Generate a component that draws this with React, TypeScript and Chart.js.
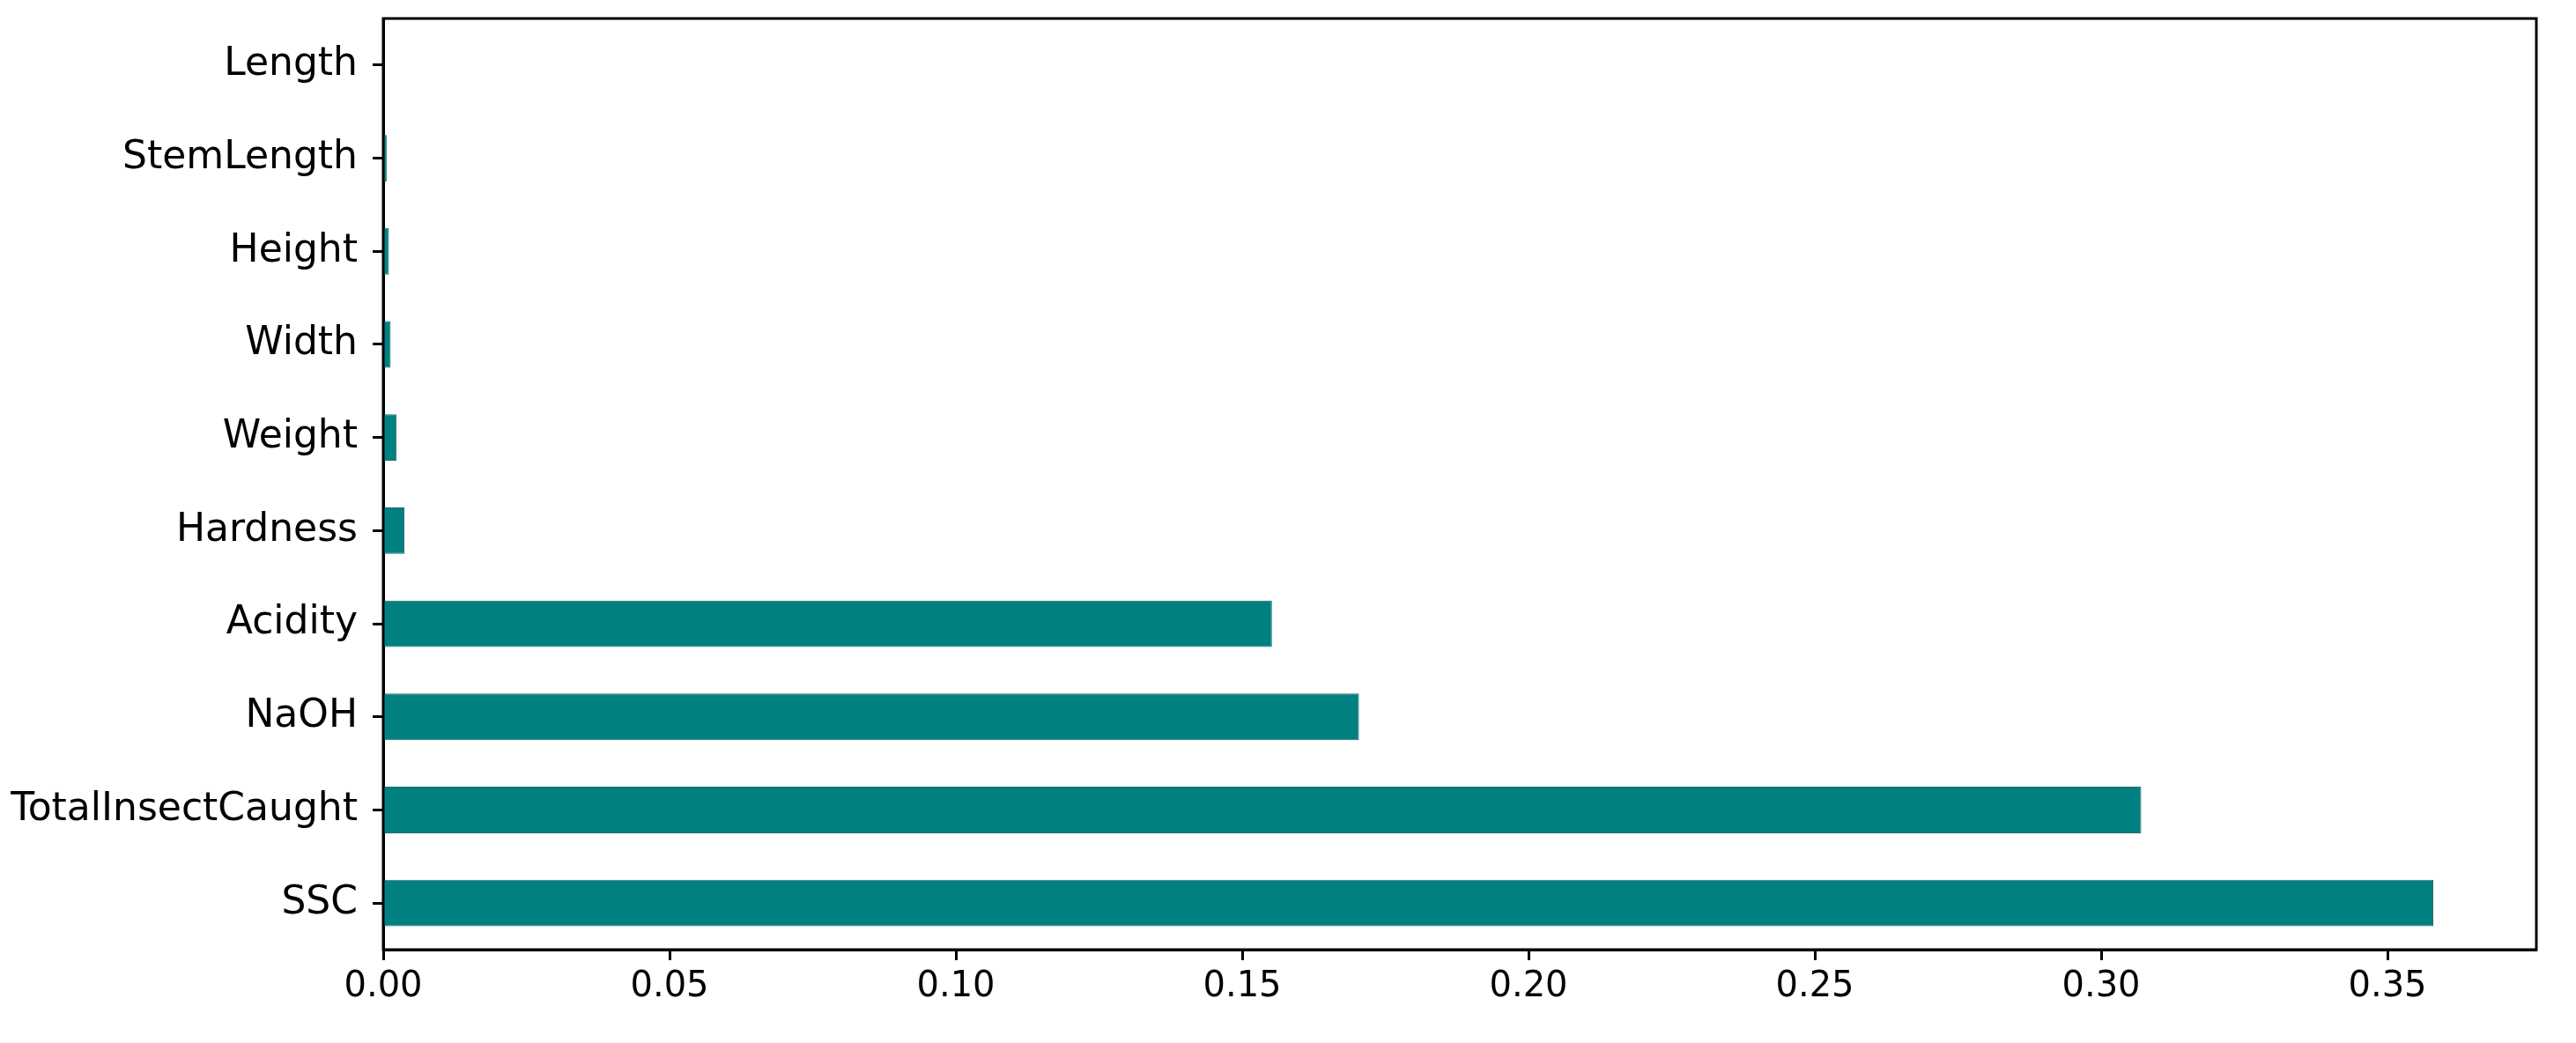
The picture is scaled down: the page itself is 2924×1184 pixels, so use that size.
import { Chart, registerables } from 'chart.js';
import { useEffect, useRef } from 'react';

Chart.register(...registerables);

// feature names, top to bottom as drawn
const features = [
  'Length',
  'StemLength',
  'Height',
  'Width',
  'Weight',
  'Hardness',
  'Acidity',
  'NaOH',
  'TotalInsectCaught',
  'SSC',
];
const importance = [
  0.0001, 0.0006, 0.001, 0.0013, 0.0023, 0.0037, 0.1552, 0.1704, 0.307, 0.358,
];
const xTicks = [0, 0.05, 0.1, 0.15, 0.2, 0.25, 0.3, 0.35];
const xMax = 0.376;

// matplotlib-style full frame round the plot
const frame = {
  id: 'frame',
  afterDraw(chart: Chart) {
    const { ctx, chartArea } = chart;
    ctx.save();
    ctx.strokeStyle = '#000';
    ctx.lineWidth = 3;
    ctx.strokeRect(
      chartArea.left,
      chartArea.top,
      chartArea.right - chartArea.left,
      chartArea.bottom - chartArea.top,
    );
    ctx.restore();
  },
};

function FeatureChart() {
  const canvas = useRef<HTMLCanvasElement | null>(null);

  useEffect(() => {
    if (!canvas.current) return;

    const chart = new Chart(canvas.current, {
      type: 'bar',
      data: {
        labels: features,
        datasets: [
          {
            data: importance,
            backgroundColor: '#008080',
            borderColor: '#2b6e6e',
            borderWidth: 1,
            barPercentage: 0.5,
            categoryPercentage: 1,
          },
        ],
      },
      options: {
        indexAxis: 'y',
        animation: false,
        responsive: false,
        devicePixelRatio: 1,
        layout: { padding: { top: 21, right: 45, left: 0, bottom: 0 } },
        plugins: {
          legend: { display: false },
          tooltip: { enabled: false },
        },
        scales: {
          x: {
            type: 'linear',
            min: 0,
            max: xMax,
            afterBuildTicks: (scale) => {
              scale.ticks = xTicks.map((v) => ({ value: v }));
            },
            afterFit: (scale) => {
              scale.height = 106;
            },
            ticks: {
              color: '#000',
              font: { family: 'DejaVu Sans', size: 40 },
              padding: 7,
              maxRotation: 0,
              autoSkip: false,
              callback: (v) => Number(v).toFixed(2),
            },
            grid: {
              drawOnChartArea: false,
              drawTicks: true,
              tickLength: 12,
              tickWidth: 3,
              tickColor: '#000',
            },
            border: { display: true, color: '#000', width: 3 },
          },
          y: {
            afterFit: (scale) => {
              scale.width = 435;
              scale.paddingTop = 0;
              scale.paddingBottom = 0;
            },
            ticks: {
              color: '#000',
              font: { family: 'DejaVu Sans', size: 44 },
              padding: 17,
              autoSkip: false,
            },
            grid: {
              drawOnChartArea: false,
              drawTicks: true,
              tickLength: 12,
              tickWidth: 3,
              tickColor: '#000',
              offset: false,
            },
            border: { display: true, color: '#000', width: 3 },
          },
        },
      },
      plugins: [frame],
    });

    return () => chart.destroy();
  }, [canvas]);

  return <canvas ref={canvas} width={2924} height={1184}></canvas>;
}

export default function App() {
  return (
    <div
      style={{
        position: 'absolute',
        left: 0,
        top: 0,
        width: 2924,
        height: 1184,
        background: '#fff',
      }}
    >
      <FeatureChart />
    </div>
  );
}
